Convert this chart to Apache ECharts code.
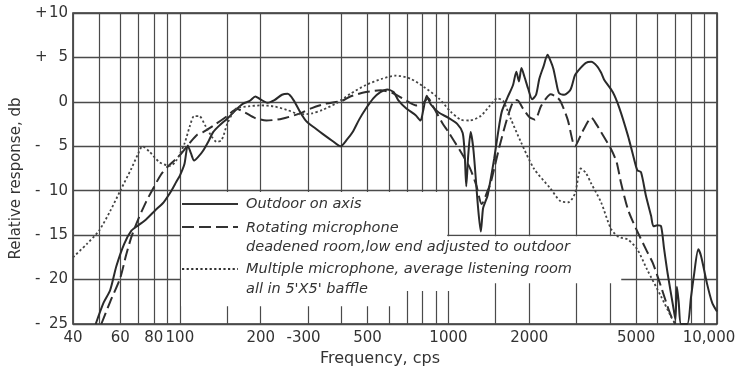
<!DOCTYPE html>
<html>
<head>
<meta charset="utf-8">
<script src="https://cdn.jsdelivr.net/npm/echarts@6/dist/echarts.min.js"></script>
<style>
  html, body { margin: 0; padding: 0; background: #fff; }
  #chart { width: 739px; height: 368px; }
</style>
</head>
<body>
<div id="chart"></div>
<script>
// Vertical grid rulings of the log-frequency paper (Hz)
const gridFreqs = [40, 50, 60, 70, 80, 90, 100, 150, 200, 300, 400, 500, 600, 700, 800, 900,
  1000, 1500, 2000, 3000, 4000, 5000, 6000, 7000, 8000, 9000, 10000];
// Labelled frequencies and their printed labels
const freqTicks = [40, 60, 80, 100, 200, 300, 500, 1000, 2000, 5000, 10000];
const freqTickLabels = ['40', '60', '80', '100', '200', '-300', '500', '1000', '2000', '5000', '10,000'];

// Response curves: [frequency in cps, relative response in db]
const outdoorOnAxis = [
  [48.6, -25], [52, -22.6], [55, -21.2], [58, -18.5], [62, -16], [66, -14.5], [70, -13.9],
  [75, -13.2], [81, -12.2], [87, -11.3], [93, -10], [97, -9.0], [100, -8.3], [104, -7.0],
  [107, -4.9], [110, -5.8], [113, -6.6], [117, -6.2], [122, -5.5], [128, -4.4], [133, -3.4],
  [141, -2.6], [150, -1.9], [163, -0.8], [172, -0.2], [182, 0.1], [191, 0.6], [199, 0.3],
  [212, -0.1], [225, 0.2], [240, 0.8], [252, 0.9], [265, 0.2], [281, -1.2], [296, -2.2],
  [320, -3.0], [340, -3.6], [370, -4.4], [396, -5.0], [420, -4.2], [440, -3.4], [465, -2.0],
  [493, -0.75], [525, 0.4], [558, 1.1], [591, 1.4], [625, 1.1], [650, 0.2], [697, -0.75],
  [755, -1.5], [787, -2.1], [805, -1.0], [830, 0.7], [860, -0.3], [920, -1.2], [1000, -1.8],
  [1080, -2.5], [1130, -3.5], [1150, -6.0], [1165, -9.5], [1185, -6.0], [1210, -3.4],
  [1240, -5.5], [1290, -12], [1320, -14.6], [1345, -12], [1370, -11.3], [1400, -10.5],
  [1440, -8.5], [1480, -6.4], [1530, -3.5], [1580, -1.1], [1660, 0.5], [1740, 1.9],
  [1790, 3.4], [1830, 2.3], [1870, 3.8], [1920, 2.8], [1980, 1.5], [2050, 0.3], [2120, 0.8],
  [2180, 2.6], [2260, 4.0], [2340, 5.3], [2400, 4.6], [2460, 3.7], [2520, 2.2], [2580, 1.0],
  [2700, 0.8], [2850, 1.4], [2960, 3.0], [3100, 3.8], [3250, 4.4], [3400, 4.5], [3580, 4.0],
  [3700, 3.3], [3800, 2.5], [4090, 1.1], [4330, -0.7], [4660, -3.8], [4870, -6.0],
  [5050, -7.7], [5210, -7.9], [5440, -10.6], [5680, -12.8], [5800, -14], [6000, -13.9],
  [6190, -14], [6350, -16.5], [6540, -19.2], [6900, -23.4], [7000, -24.5], [7090, -20.8],
  [7200, -22.5], [7350, -25], [7750, -25], [8000, -22], [8200, -19.6], [8520, -16.6],
  [8730, -17.4], [9170, -20.4], [9590, -22.6], [10000, -23.6]
];

const rotatingMicrophone = [
  [51, -25], [55, -22.5], [60, -19.8], [63, -17.3], [66, -15.2], [70, -13.2], [75, -11.2],
  [80, -9.6], [85, -8.2], [90, -7.3], [100, -6.0], [109, -4.6], [116, -3.7], [122, -3.4],
  [133, -2.7], [150, -1.6], [163, -0.8], [175, -1.2], [190, -1.8], [210, -2.1], [240, -1.9],
  [280, -1.3], [310, -0.7], [350, -0.2], [400, 0.1], [431, 0.6], [493, 1.1], [560, 1.3],
  [620, 1.0], [700, 0.1], [760, -0.4], [800, -0.2], [840, 0.4], [880, -0.6], [950, -2.4],
  [1000, -3.4], [1100, -5.4], [1200, -7.4], [1270, -9.4], [1330, -11.5], [1400, -10],
  [1440, -9], [1550, -5], [1650, -2], [1740, 0], [1800, 0.2], [1900, -0.8], [2000, -1.7],
  [2100, -2.0], [2210, -0.5], [2300, 0.3], [2400, 0.85], [2540, 0.5], [2620, 0], [2780, -2],
  [2960, -5.0], [3150, -3.4], [3410, -1.8], [3550, -2.5], [3700, -3.4], [4030, -5.3],
  [4230, -6.8], [4390, -9.1], [4660, -12.1], [5000, -14.3], [5440, -16.6], [5760, -18.1],
  [6190, -20.8], [6540, -23], [6830, -24.5], [7000, -25]
];

const multipleMicrophone = [
  [40, -17.5], [45, -16], [50, -14.5], [55, -12.3], [60, -10], [66, -7.5], [70, -5.8],
  [72.5, -5.0], [77, -5.6], [84, -6.8], [92, -7.2], [97, -6.6], [104, -4.7], [109, -2.7],
  [113, -1.6], [118, -1.6], [125, -2.8], [132, -4.0], [137, -4.5], [143, -4.3], [150, -2.5],
  [157, -1.3], [163, -0.7], [180, -0.5], [200, -0.4], [223, -0.5], [250, -0.9], [281, -1.4],
  [310, -1.3], [340, -0.9], [380, -0.2], [431, 0.9], [493, 1.9], [566, 2.6], [637, 2.95],
  [722, 2.6], [808, 1.7], [920, 0.4], [1019, -1.1], [1110, -2.0], [1200, -2.1], [1318, -1.6],
  [1420, -0.5], [1520, 0.4], [1600, 0.1], [1706, -1.9], [1860, -4.5], [2080, -7.5],
  [2390, -9.7], [2620, -11.2], [2800, -11.3], [2960, -10.3], [3050, -8.3], [3110, -7.5],
  [3250, -8.0], [3390, -9.1], [3700, -11.3], [4030, -14.3], [4300, -15.2], [4660, -15.5],
  [5050, -16.6], [5500, -18.9], [6190, -21.9], [6750, -24.2], [7000, -25]
];

// Corners of the blank panel that holds the key, in (cps, db)
const keyPanel = [[100, -10], [1000, -10], [1000, -15], [4400, -15], [4400, -20.4],
  [1200, -20.4], [1200, -21.3], [650, -21.3], [650, -23], [100, -23]];
const keyPanelNudge = [[1.2, 1.2], [-1.2, 1.2], [-1.2, 1.2], [0, 1.2], [0, 0],
  [0, 0], [0, 0], [0, 0], [0, 0], [1.2, 0]];

const INK = '#333333';
const RULE = '#4a4a4a';

// Horizontal nudge (px, leftwards) for a few frequency labels
const labelShift = { 300: 9, 10000: 16 };

const chart = echarts.init(document.getElementById('chart'));

const option = {
  animation: false,
  backgroundColor: '#ffffff',
  grid: {
    left: 73, right: 22, top: 13, bottom: 44, outerBoundsMode: 'none',
    show: true, borderColor: INK, borderWidth: 1.6
  },
  xAxis: {
    type: 'log', logBase: 10, min: 40, max: 10000,
    axisLine: { show: false }, axisTick: { show: false }, axisLabel: { show: false },
    splitLine: { show: false }, minorSplitLine: { show: false },
    name: 'Frequency, cps', nameLocation: 'middle', nameGap: 27,
    nameTextStyle: { fontFamily: 'DejaVu Sans', fontSize: 16, color: INK, padding: [0, 30, 0, 0] }
  },
  yAxis: {
    type: 'value', min: -25, max: 10, interval: 5,
    axisLine: { show: false }, axisTick: { show: false },
    splitLine: { show: true, lineStyle: { color: RULE, width: 1.3 } },
    axisLabel: {
      margin: 5,
      formatter: v => v > 0 ? '{s|+}{n|' + v + '}' : v < 0 ? '{s|-}{n|' + (-v) + '}' : '{n|0}',
      rich: {
        s: { width: 12, align: 'left', fontFamily: 'DejaVu Sans', fontSize: 15, color: INK },
        n: { width: 21, align: 'right', fontFamily: 'DejaVu Sans', fontSize: 15, color: INK }
      }
    },
    name: 'Relative response, db', nameLocation: 'middle', nameGap: 47, nameRotate: 90,
    nameTextStyle: { fontFamily: 'DejaVu Sans', fontSize: 15, color: INK, padding: [0, 20, 0, 0] }
  },
  series: [
    {
      // vertical rulings and frequency labels
      type: 'line', data: [], z: 0, silent: true,
      markLine: {
        z: 0, silent: true, symbol: ['none', 'none'], animation: false,
        lineStyle: { type: 'solid', color: RULE, width: 1.2 },
        emphasis: { disabled: true },
        data: gridFreqs.map(f => {
          const i = freqTicks.indexOf(f);
          return [
            {
              coord: [f, -25],
              label: {
                show: i >= 0, position: 'start', distance: 7,
                formatter: i >= 0 ? freqTickLabels[i] : '',
                padding: [0, labelShift[f] || 0, 0, 0],
                fontFamily: 'DejaVu Sans', fontSize: 15, color: INK
              }
            },
            { coord: [f, 10] }
          ];
        })
      }
    },
    {
      name: 'Outdoor on axis', type: 'line', data: outdoorOnAxis, symbol: 'none', smooth: 0.25,
      z: 3, lineStyle: { color: '#2a2a2a', width: 2 }
    },
    {
      name: 'Rotating microphone', type: 'line', data: rotatingMicrophone, symbol: 'none', smooth: 0.25,
      z: 3, lineStyle: { color: '#2e2e2e', width: 2, type: [12, 5] }
    },
    {
      name: 'Multiple microphone', type: 'line', data: multipleMicrophone, symbol: 'none', smooth: 0.25,
      z: 3, lineStyle: { color: '#444444', width: 1.8, type: [2.2, 2.4] }
    }
  ]
};
chart.setOption(option);

// Blank key panel over the rulings, then the key itself
const panelPts = keyPanel.map((p, i) => {
  const q = chart.convertToPixel({ gridIndex: 0 }, p);
  return [q[0] + keyPanelNudge[i][0], q[1] + keyPanelNudge[i][1]];
});
const keyFont = 'italic 14.5px "DejaVu Sans"';
const keyText = (txt, x, y) => ({
  type: 'text', x: x, y: y, z: 4,
  style: { text: txt, font: keyFont, fill: INK, verticalAlign: 'middle' }
});
const keyLine = (y, w, dash) => ({
  type: 'line', z: 4, shape: { x1: 182, y1: y, x2: 238, y2: y },
  style: { stroke: INK, lineWidth: w, lineDash: dash }
});
chart.setOption({
  graphic: [
    { type: 'polygon', z: 1, silent: true, shape: { points: panelPts }, style: { fill: '#ffffff' } },
    keyLine(204, 2, null),
    keyLine(227, 2, [12, 5]),
    keyLine(269, 1.8, [2.2, 2.4]),
    keyText('Outdoor on axis', 246, 204),
    keyText('Rotating microphone', 246, 228),
    keyText('deadened room,low end adjusted to outdoor', 246, 247),
    keyText('Multiple microphone, average listening room', 246, 269),
    keyText("all in 5'X5' baffle", 246, 289)
  ]
});
</script>
</body>
</html>
